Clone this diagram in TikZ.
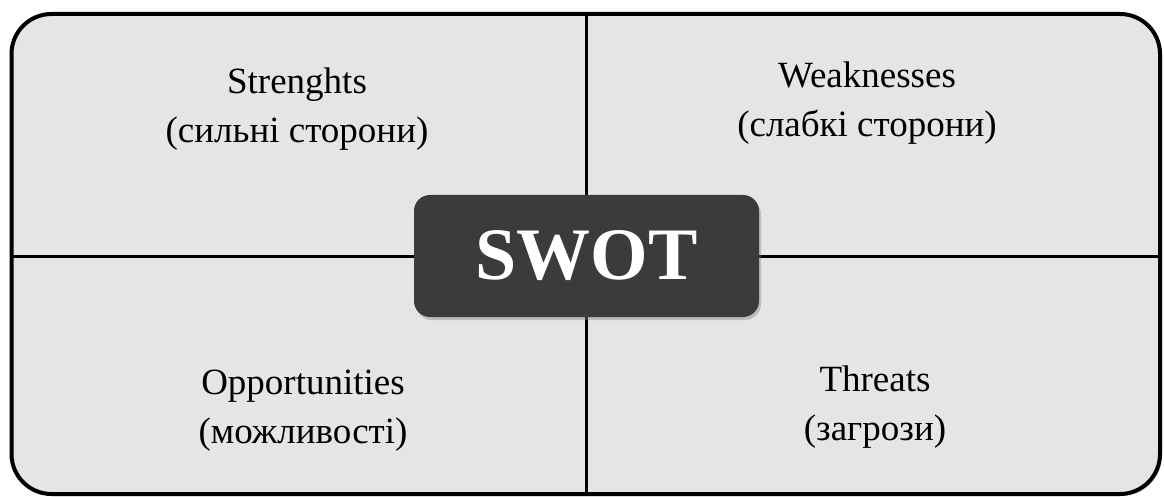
\documentclass[tikz,border=0pt]{standalone}
\usepackage{fontspec}
\setmainfont{Liberation Serif}
\usetikzlibrary{shadows}
\definecolor{cellgray}{HTML}{E5E5E5}
\definecolor{swotgray}{HTML}{3C3B3A}
\begin{document}
\begin{tikzpicture}[x=1pt,y=-1pt,
  frame/.style={draw=black,line width=4pt,fill=cellgray,rounded corners=40pt,
    minimum width=1148.5pt,minimum height=480pt,inner sep=0pt,
    drop shadow={shadow xshift=2pt,shadow yshift=-2pt,opacity=0.35}},
  divider/.style={draw=black,line width=3pt},
  corebox/.style={fill=swotgray,text=white,rounded corners=16pt,
    minimum width=345pt,minimum height=122pt,inner sep=0pt,
    font=\bfseries\fontsize{74}{80}\selectfont,
    drop shadow={shadow xshift=2pt,shadow yshift=-3pt,opacity=0.4}},
  celltext/.style={align=center,font=\fontsize{37}{49}\selectfont}]
\useasboundingbox (0,0) rectangle (1164,497);
\node [frame] (frame) at (585.75,254) {};
\coordinate (mid) at (586.5,256);
\draw [divider] (frame.north -| mid) -- (frame.south -| mid);
\draw [divider] (frame.west |- mid) -- (frame.east |- mid);
\node [corebox] (swot) at (mid) {SWOT};
\node [celltext] (strengths) at (297,109) {Strenghts\\(сильні сторони)};
\node [celltext] (weaknesses) at (867,103) {Weaknesses\\(слабкі сторони)};
\node [celltext] (opportunities) at (303,411) {Opportunities\\(можливості)};
\node [celltext] (threats) at (875,407) {Threats\\(загрози)};
\end{tikzpicture}
\end{document}
